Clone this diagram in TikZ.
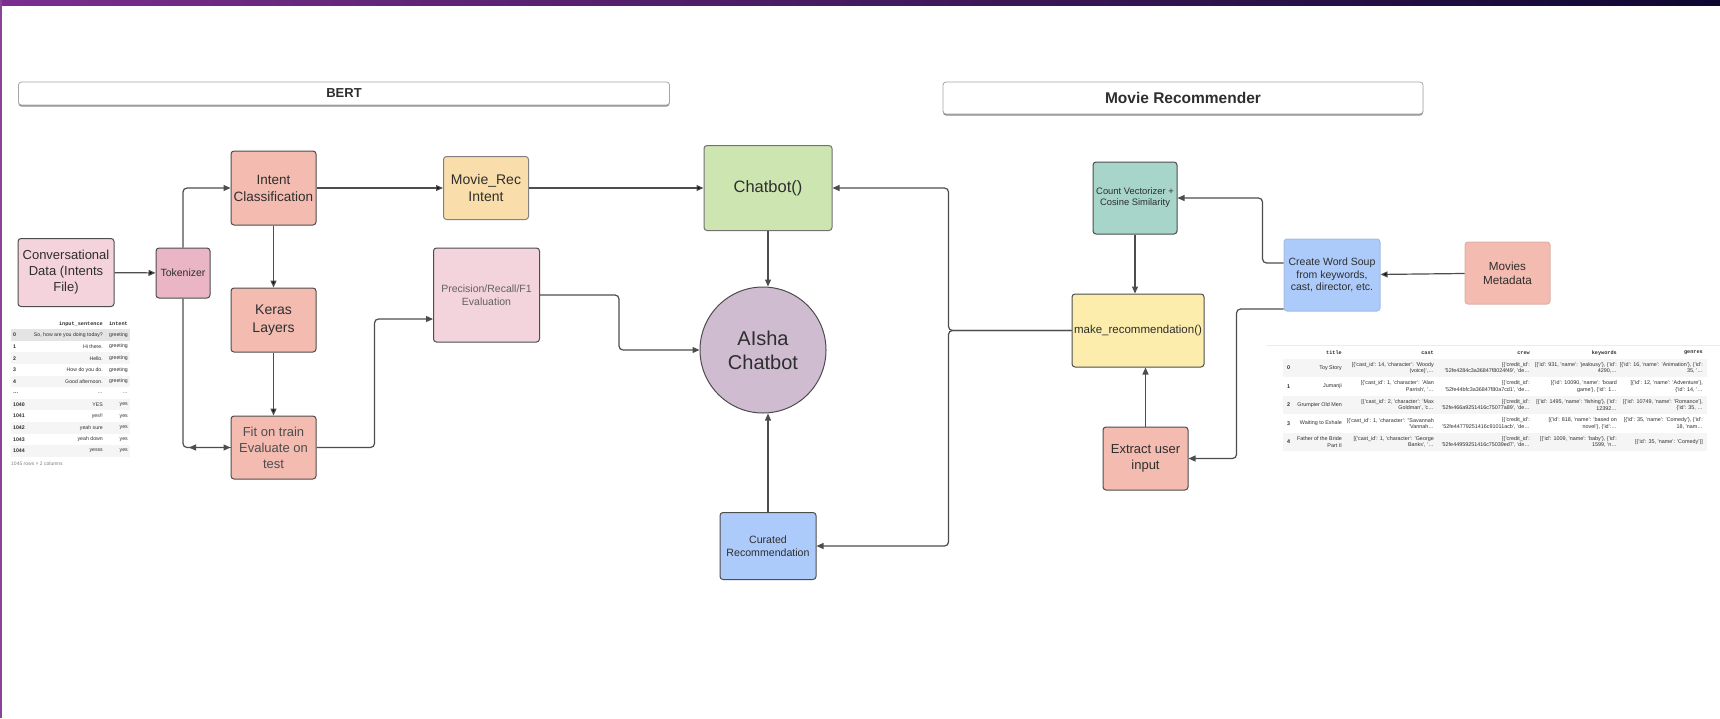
\documentclass[tikz,border=0pt]{standalone}
\usepackage{fontspec}
\setmainfont{Liberation Sans}
\setmonofont{Liberation Mono}
\usepackage{tikz}
\usetikzlibrary{arrows.meta,shadows}
\definecolor{lgray}{HTML}{4D4D4D}
\definecolor{txt}{HTML}{2E2E2E}
\definecolor{convpink}{HTML}{F4D3DD}
\definecolor{tokpink}{HTML}{EAB6C6}
\definecolor{salmon}{HTML}{F4BCB1}
\definecolor{peach}{HTML}{F9DDAA}
\definecolor{evalpink}{HTML}{F3D3DC}
\definecolor{lgreen}{HTML}{CDE6B1}
\definecolor{mauve}{HTML}{D0BCD1}
\definecolor{lblue}{HTML}{ADCBFA}
\definecolor{teal}{HTML}{A7D5CA}
\definecolor{lyellow}{HTML}{FCEDAD}
\definecolor{barl}{HTML}{7B2E8E}
\definecolor{barr}{HTML}{0E0730}
\definecolor{stripe}{HTML}{F5F5F5}
\definecolor{hover}{HTML}{E4E4E4}
\newcommand{\fsz}[2]{\fontsize{#1}{#2}\selectfont}
\tikzset{
  blk/.style={draw=lgray, line width=1pt, rounded corners=3pt, align=center,
    inner sep=1pt, text=txt},
  hdr/.style={draw=gray!70, line width=0.8pt, rounded corners=3pt, fill=white,
    text=txt, drop shadow={shadow xshift=0pt, shadow yshift=-1.5pt, fill=black!45, opacity=1}},
  arr/.style={draw=lgray, line width=1.2pt, rounded corners=4pt,
    -{Triangle[length=7pt,width=6pt]}},
  cell/.style={anchor=east, align=right, inner sep=0pt, text=txt},
  colhead/.style={anchor=east, inner sep=0pt, text=txt, font=\ttfamily\bfseries\fsz{5.2}{6}},
}
\begin{document}
\begin{tikzpicture}[x=1pt,y=-1pt]
  \useasboundingbox[fill=white] (0,0) rectangle (1720,718);
  \shade[left color=barl, right color=barr] (0,0) rectangle (1720,5);
  \fill[barl!90] (0,0) rectangle (2,718);

  \node[hdr, minimum width=651pt, minimum height=23pt, font=\bfseries\fsz{13}{15}] (bert) at (344,93.5) {BERT};
  \node[hdr, minimum width=480pt, minimum height=32pt, font=\bfseries\fsz{15.5}{18}] (movhdr) at (1183,98) {Movie Recommender};

  \node[blk, fill=convpink, minimum width=96pt, minimum height=68pt, font=\fsz{13}{16}] (conv) at (66,272.5) {Conversational\\Data (Intents\\File)};
  \node[blk, fill=tokpink, minimum width=54pt, minimum height=50pt, font=\fsz{10.5}{12}] (tok) at (183,273) {Tokenizer};
  \node[blk, fill=salmon, minimum width=85pt, minimum height=74pt, font=\fsz{13.5}{17}] (intent) at (273.5,188) {Intent\\Classification};
  \node[blk, fill=salmon, minimum width=85pt, minimum height=64pt, font=\fsz{14}{17.5}] (keras) at (273.5,320) {Keras\\Layers};
  \node[blk, fill=salmon, minimum width=85pt, minimum height=63pt, font=\fsz{13}{16}, text=txt!85] (fit) at (273.5,447.5) {Fit on train\\Evaluate on\\test};
  \node[blk, fill=peach, draw=lgray!70, minimum width=85pt, minimum height=63pt, font=\fsz{14}{16.7}] (movrec) at (486,188) {Movie\_Rec\\Intent};
  \node[blk, fill=evalpink, minimum width=106pt, minimum height=94pt, font=\fsz{10.5}{12.7}, text=txt!75] (prec) at (486.5,295) {Precision/Recall/F1\\Evaluation};
  \node[blk, fill=lgreen, draw=lgray!80, minimum width=128pt, minimum height=85pt, font=\fsz{16.5}{20}] (chatfn) at (768,188) {Chatbot()};
  \node[blk, circle, fill=mauve, minimum size=126pt, inner sep=0pt, font=\fsz{20}{24}] (aisha) at (763,350) {AIsha\\Chatbot};
  \node[blk, fill=lblue, minimum width=96pt, minimum height=67pt, font=\fsz{10.6}{12.7}] (curated) at (768,546) {Curated\\Recommendation};

  \node[blk, fill=teal, minimum width=84pt, minimum height=72pt, font=\fsz{9.4}{11}] (countvec) at (1135,198) {Count Vectorizer +\\Cosine Similarity};
  \node[blk, fill=lyellow, minimum width=132pt, minimum height=73pt, inner sep=0pt, font=\fsz{11.5}{14}] (makerec) at (1138,330.5) {make\_recommendation()};
  \node[blk, fill=salmon, minimum width=85pt, minimum height=63pt, font=\fsz{13}{16}] (extract) at (1145.5,458.5) {Extract user\\input};
  \node[blk, fill=lblue, draw=lblue!80!gray, minimum width=96pt, minimum height=72pt, font=\fsz{10.5}{12.7}] (soup) at (1332,275) {Create Word Soup\\from keywords,\\cast, director, etc.};
  \node[blk, fill=salmon, draw=salmon!80!gray, minimum width=85pt, minimum height=62pt, font=\fsz{11.7}{14.3}] (meta) at (1507.5,273) {Movies\\Metadata};

  \coordinate (fitback) at (189,447.5);
  \path[arr] (conv) edge (tok);
  \draw[arr] (tok) |- (intent);
  \draw[arr] (tok) |- (fit);
  \draw[arr] (fit.west) -- (fitback);
  \path[arr] (intent) edge (movrec);
  \path[arr] (movrec) edge (chatfn);
  \path[arr] (intent) edge (keras);
  \path[arr] (keras) edge (fit);
  \draw[arr] (fit.east) -- ++(58,0) |- ([yshift=-24pt]prec.west);
  \draw[arr] (prec.east) -- ++(79,0) |- (aisha.west);
  \draw[arr] (chatfn) -- (chatfn.south |- aisha.north);
  \draw[arr] (curated) -- (curated.north |- aisha.south);
  \draw[arr] (makerec.west) -- ++(-123,0) |- (chatfn.east);
  \draw[arr] (makerec.west) -- ++(-123,0) |- (curated.east);
  \draw[arr] (countvec) -- (countvec.south |- makerec.north);
  \draw[arr] (extract) -- (extract.north |- makerec.south);
  \draw[arr] ([yshift=12pt]soup.west) -- ++(-21,0) |- (countvec.east);
  \path[arr] (meta) edge (soup);
  \draw[arr] ([yshift=-34pt]soup.west) -- ++(-47,0) |- (extract.east);

  % intents table
  \node[colhead] (inhead) at (103,324) {input\_sentence};
  \node[colhead] (inthead) at (128,324) {intent};
  \foreach \ix/\se/\it [count=\r] in {0/{So, how are you doing today?}/greeting, 1/{Hi there.}/greeting,
      2/{Hello.}/greeting, 3/{How do you do.}/greeting, 4/{Good afternoon.}/greeting, {\dots}/{\dots}/{\dots},
      1040/YES/yes, 1041/{yes!!}/yes, 1042/{yeah sure}/yes, 1043/{yeah down}/yes, 1044/yesss/yes}{
    \pgfmathsetmacro\yy{335+11.6*(\r-1)}
    \ifnum\r=1 \fill[hover] (11,\yy-5.8) rectangle (130,\yy+5.8);
    \else\ifodd\r \fill[stripe] (11,\yy-5.8) rectangle (130,\yy+5.8); \fi\fi
    \node[cell, anchor=west, font=\bfseries\fsz{5.2}{6}] at (13,\yy) {\ix};
    \node[cell, font=\fsz{5.2}{6}] at (103,\yy) {\se};
    \node[cell, font=\fsz{5.2}{6}] at (128,\yy) {\it};
  }
  \node[cell, anchor=west, font=\fsz{5}{6}, text=gray] (infoot) at (11,464) {1045 rows × 2 columns};

  % movies table
  \draw[gray!15] (1266,345) -- (1720,345);
  \node[colhead] at (1342,353) {title};
  \node[colhead] at (1434,353) {cast};
  \node[colhead] at (1530,353) {crew};
  \node[colhead] at (1617,353) {keywords};
  \node[colhead] at (1703,353) {genres};
  \foreach \ix/\ti/\ca/\cw/\kw/\ge [count=\r] in {
      0/{Toy Story}/{[\{'cast\_id': 14, 'character': 'Woody\\(voice)',\dots}/{[\{'credit\_id':\\'52fe4284c3a36847f8024f49', 'de\dots}/{[\{'id': 931, 'name': 'jealousy'\}, \{'id':\\4290,\dots}/{[\{'id': 16, 'name': 'Animation'\}, \{'id':\\35, '\dots},
      1/{Jumanji}/{[\{'cast\_id': 1, 'character': 'Alan\\Parrish', '\dots}/{[\{'credit\_id':\\'52fe44bfc3a36847f80a7cd1', 'de\dots}/{[\{'id': 10090, 'name': 'board\\game'\}, \{'id': 1\dots}/{[\{'id': 12, 'name': 'Adventure'\},\\\{'id': 14, '\dots},
      2/{Grumpier Old Men}/{[\{'cast\_id': 2, 'character': 'Max\\Goldman', 'c\dots}/{[\{'credit\_id':\\'52fe466a9251416c75077a89', 'de\dots}/{[\{'id': 1495, 'name': 'fishing'\}, \{'id':\\12392\dots}/{[\{'id': 10749, 'name': 'Romance'\},\\\{'id': 35, \dots},
      3/{Waiting to Exhale}/{[\{'cast\_id': 1, 'character': "Savannah\\'Vannah\dots}/{[\{'credit\_id':\\'52fe44779251416c91011acb', 'de\dots}/{[\{'id': 818, 'name': 'based on\\novel'\}, \{'id':\dots}/{[\{'id': 35, 'name': 'Comedy'\}, \{'id':\\18, 'nam\dots},
      4/{Father of the Bride\\Part II}/{[\{'cast\_id': 1, 'character': 'George\\Banks', '\dots}/{[\{'credit\_id':\\'52fe44959251416c75039ed7', 'de\dots}/{[\{'id': 1009, 'name': 'baby'\}, \{'id':\\1599, 'n\dots}/{[\{'id': 35, 'name': 'Comedy'\}]}}{
    \pgfmathsetmacro\yy{368+18.5*(\r-1)}
    \ifodd\r \fill[stripe] (1283,\yy-9.25) rectangle (1707,\yy+9.25); \fi
    \node[cell, anchor=west, font=\bfseries\fsz{5.4}{6.6}] at (1287,\yy) {\ix};
    \node[cell, font=\fsz{5.4}{6.6}] at (1342,\yy) {\ti};
    \node[cell, font=\fsz{5.4}{6.6}] at (1434,\yy) {\ca};
    \node[cell, font=\fsz{5.4}{6.6}] at (1530,\yy) {\cw};
    \node[cell, font=\fsz{5.4}{6.6}] at (1617,\yy) {\kw};
    \node[cell, font=\fsz{5.4}{6.6}] at (1703,\yy) {\ge};
  }
\end{tikzpicture}
\end{document}
